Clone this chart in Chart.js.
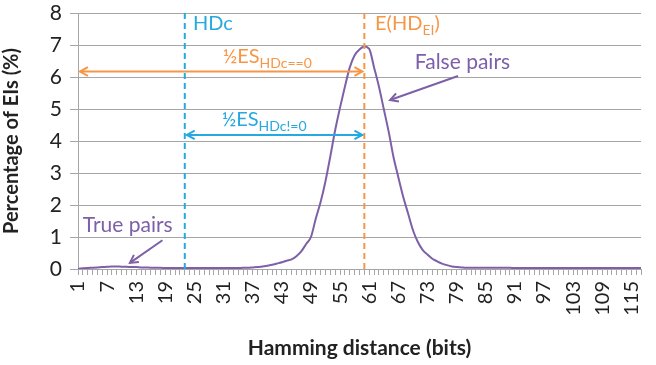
<!DOCTYPE html>
<html><head><meta charset="utf-8">
<script src="https://cdn.jsdelivr.net/npm/chart.js@4.4.1/dist/chart.umd.min.js"></script>
<style>html,body{margin:0;padding:0;background:#fff}#wrap{width:656px;height:365px}</style>
</head><body><div id="wrap"><canvas id="c" width="656" height="365"></canvas></div>
<script>
// Hamming distance categories 1..117
const hammingBits = Array.from({length:117},(_,i)=>String(i+1));
// Percentage of EIs (%)
const percentEIs = [
0.01,0.02,0.03,0.04,0.05,0.06,0.07,0.08,0.08,0.07,
0.07,0.06,0.06,0.05,0.05,0.04,0.04,0.04,0.03,0.03,
0.03,0.03,0.03,0.03,0.03,0.03,0.03,0.03,0.03,0.03,
0.03,0.03,0.03,0.03,0.04,0.04,0.05,0.06,0.08,0.10,
0.13,0.17,0.21,0.26,0.30,0.40,0.55,0.78,1.00,1.58,
2.10,2.75,3.53,4.35,5.05,5.70,6.30,6.68,6.86,6.95,
6.88,6.30,5.70,5.00,4.30,3.50,2.87,2.26,1.74,1.22,
0.85,0.60,0.45,0.32,0.24,0.17,0.12,0.08,0.06,0.05,
0.04,0.04,0.04,0.04,0.04,0.04,0.04,0.04,0.04,0.04,
0.03,0.03,0.03,0.03,0.03,0.03,0.03,0.03,0.03,0.03,
0.03,0.03,0.03,0.03,0.03,0.03,0.03,0.03,0.03,0.03,
0.03,0.03,0.03,0.03,0.03,0.03,0.03];
const yTicks = [0,1,2,3,4,5,6,7,8];
const hdcValue = 23;      // HDc threshold (bits)
const expectedHD = 60;    // E(HD_EI) (bits)
const esEqualLevel = 6.17;
const esNotEqualLevel = 4.19;

const PURPLE='#7d60a8', ORANGE='#f79646', BLUE='#25a9e0';
const FONT='Lato, "Open Sans", sans-serif';

const annot = {
  id:'annot',
  afterDatasetsDraw(chart){
    const ctx=chart.ctx, xs=chart.scales.x, ys=chart.scales.y, ca=chart.chartArea;
    const X=v=>xs.getPixelForValue(v-1), Y=v=>ys.getPixelForValue(v);
    ctx.save();
    ctx.lineWidth=2; ctx.setLineDash([6,4]);
    ctx.strokeStyle=BLUE; ctx.beginPath(); ctx.moveTo(X(hdcValue),ca.top); ctx.lineTo(X(hdcValue),ca.bottom); ctx.stroke();
    ctx.strokeStyle=ORANGE; ctx.beginPath(); ctx.moveTo(X(expectedHD),ca.top); ctx.lineTo(X(expectedHD),ca.bottom); ctx.stroke();
    ctx.setLineDash([]);
    function head(x,y,ang,col){
      ctx.strokeStyle=col; ctx.lineWidth=2; ctx.beginPath();
      ctx.moveTo(x+9*Math.cos(ang+0.5),y+9*Math.sin(ang+0.5));
      ctx.lineTo(x,y);
      ctx.lineTo(x+9*Math.cos(ang-0.5),y+9*Math.sin(ang-0.5));
      ctx.stroke();
    }
    function arrow(x1,y1,x2,y2,col,both){
      ctx.strokeStyle=col; ctx.lineWidth=2; ctx.beginPath(); ctx.moveTo(x1,y1); ctx.lineTo(x2,y2); ctx.stroke();
      const a=Math.atan2(y1-y2,x1-x2);
      head(x2,y2,a,col);
      if(both) head(x1,y1,a+Math.PI,col);
    }
    arrow(X(1)+2,Y(esEqualLevel),X(expectedHD)-2,Y(esEqualLevel),ORANGE,true);
    arrow(X(hdcValue)+2,Y(esNotEqualLevel),X(expectedHD)-2,Y(esNotEqualLevel),BLUE,true);
    arrow(X(79.3),Y(6.03),X(65.3),Y(5.28),PURPLE,false);
    arrow(X(18.4),Y(0.9),X(11.7),Y(0.19),PURPLE,false);
    function sub(x,y,main,subs,col){
      ctx.fillStyle=col; ctx.textBaseline='middle'; ctx.textAlign='left';
      ctx.font='20px '+FONT; ctx.fillText(main,x,y);
      const w=ctx.measureText(main).width;
      ctx.font='14px '+FONT; ctx.fillText(subs,x+w,y+7);
      return x+w+ctx.measureText(subs).width;
    }
    ctx.fillStyle=BLUE; ctx.font='20px '+FONT; ctx.textBaseline='middle'; ctx.textAlign='left';
    ctx.fillText('HDc',X(hdcValue+1.7),Y(7.66));
    const e=sub(X(expectedHD+2.2),Y(7.66),'E(HD','EI',ORANGE);
    ctx.font='20px '+FONT; ctx.fillStyle=ORANGE; ctx.fillText(')',e,Y(7.66));
    sub(X(30.8),Y(6.63),'½ES','HDc==0',ORANGE);
    sub(X(30.6),Y(4.66),'½ES','HDc!=0',BLUE);
    ctx.fillStyle=PURPLE; ctx.font='21px '+FONT; ctx.textBaseline='middle';
    ctx.fillText('False pairs',X(70.4),Y(6.47));
    ctx.fillText('True pairs',X(2),Y(1.375));
    ctx.restore();
  }
};

new Chart(document.getElementById('c'),{
  type:'line',
  data:{labels:hammingBits,datasets:[{data:percentEIs,borderColor:PURPLE,borderWidth:2,pointRadius:0,cubicInterpolationMode:'monotone',fill:false}]},
  options:{
    responsive:false,animation:false,
    layout:{padding:{top:13,right:15,left:0,bottom:0}},
    plugins:{legend:{display:false},tooltip:{enabled:false}},
    scales:{
      x:{
        offset:false,
        grid:{display:true,drawOnChartArea:false,drawTicks:true,tickLength:6,color:'#a6a6a6'},
        border:{color:'#a6a6a6'},
        ticks:{autoSkip:false,minRotation:90,maxRotation:90,padding:6,color:'#222',font:{family:FONT,size:20},
          callback:(v,i)=> (i%6===0? hammingBits[i] : '')},
        title:{display:true,text:'Hamming distance (bits)',color:'#222',font:{family:FONT,size:21,weight:'bold'},padding:{top:4,bottom:4}},
        afterFit:s=>{s.height=96; s.paddingLeft=0; s.paddingRight=0;}
      },
      y:{
        min:0,max:8,
        afterBuildTicks:s=>{s.ticks=yTicks.map(v=>({value:v}));},
        grid:{color:'#a6a6a6',tickLength:8},
        border:{color:'#a6a6a6'},
        ticks:{color:'#222',padding:8,font:{family:FONT,size:21}},
        title:{display:true,text:'Percentage of EIs (%)',color:'#222',font:{family:FONT,size:20,weight:'bold'},padding:{top:0,bottom:2}},
        afterFit:s=>{s.width=78; s.paddingTop=0; s.paddingBottom=0;}
      }
    }
  },
  plugins:[annot]
});
</script></body></html>
